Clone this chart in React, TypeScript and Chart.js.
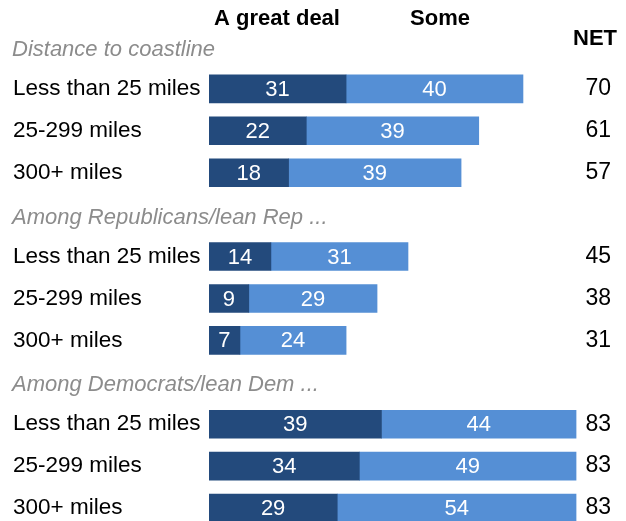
import React, { useEffect, useRef } from "react";
import { Chart, registerables } from "chart.js";

Chart.register(...registerables);

const groupTitles = ["Distance to coastline", "Among Republicans/lean Rep ...", "Among Democrats/lean Dem ..."];
const rowLabels = ["Less than 25 miles", "25-299 miles", "300+ miles"];
const greatDeal = [31, 22, 18, 14, 9, 7, 39, 34, 29];
const some = [40, 39, 39, 31, 29, 24, 44, 49, 54];
const net = [70, 61, 57, 45, 38, 31, 83, 83, 83];
const seriesNames = ["A great deal", "Some"];
const netTitle = "NET";

const DARK = "#234a7c";
const LIGHT = "#558fd5";
const FONT = "'Liberation Sans', Arial, sans-serif";

const slotLabels: string[] = [];
const slotGreat: (number | null)[] = [];
const slotSome: (number | null)[] = [];
const slotNet: (number | null)[] = [];
const slotHeader: (string | null)[] = [];
groupTitles.forEach((g, gi) => {
  slotLabels.push(g);
  slotGreat.push(null);
  slotSome.push(null);
  slotNet.push(null);
  slotHeader.push(g);
  rowLabels.forEach((r, ri) => {
    const i = gi * 3 + ri;
    slotLabels.push(r);
    slotGreat.push(greatDeal[i]);
    slotSome.push(some[i]);
    slotNet.push(net[i]);
    slotHeader.push(null);
  });
});

const textPlugin = {
  id: "textPlugin",
  afterDatasetsDraw(chart: any) {
    const ctx = chart.ctx;
    const y = chart.scales.y;
    const x = chart.scales.x;
    ctx.save();
    ctx.textBaseline = "middle";
    slotLabels.forEach((lab, i) => {
      const py = y.getPixelForValue(i);
      if (slotHeader[i]) {
        ctx.font = `italic 22px ${FONT}`;
        ctx.fillStyle = "#8c8c8c";
        ctx.textAlign = "left";
        ctx.fillText(lab, 12, py + 3);
        return;
      }
      ctx.font = `22.5px ${FONT}`;
      ctx.fillStyle = "#000";
      ctx.textAlign = "left";
      ctx.fillText(lab, 13, py);
      const g = slotGreat[i] as number;
      const s = slotSome[i] as number;
      ctx.font = `22px ${FONT}`;
      ctx.fillStyle = "#fff";
      ctx.textAlign = "center";
      const x0 = x.getPixelForValue(0);
      const x1 = x.getPixelForValue(g);
      const x2 = x.getPixelForValue(g + s);
      ctx.fillText(String(g), (x0 + x1) / 2, py + 1);
      ctx.fillText(String(s), (x1 + x2) / 2, py + 1);
      ctx.font = `23px ${FONT}`;
      ctx.fillStyle = "#000";
      ctx.textAlign = "right";
      ctx.fillText(String(slotNet[i]), 611, py);
    });
    ctx.font = `bold 22px ${FONT}`;
    ctx.fillStyle = "#000";
    ctx.textAlign = "center";
    ctx.fillText(seriesNames[0], 277, 19);
    ctx.fillText(seriesNames[1], 440, 19);
    ctx.textAlign = "right";
    ctx.fillText(netTitle, 617, 39);
    ctx.restore();
  },
};

export default function App() {
  const ref = useRef<HTMLCanvasElement>(null);
  useEffect(() => {
    if (!ref.current) return;
    const chart = new Chart(ref.current, {
      type: "bar",
      data: {
        labels: slotLabels,
        datasets: [
          { label: seriesNames[0], data: slotGreat, backgroundColor: DARK, barThickness: 28 },
          { label: seriesNames[1], data: slotSome, backgroundColor: LIGHT, barThickness: 28 },
        ],
      },
      options: {
        indexAxis: "y",
        animation: false,
        responsive: false,
        maintainAspectRatio: false,
        layout: { padding: { left: 209, right: 19, top: 26, bottom: 1 } },
        plugins: { legend: { display: false }, tooltip: { enabled: false } },
        scales: {
          x: { stacked: true, min: 0, max: 90, display: false },
          y: { stacked: true, display: false },
        },
      },
      plugins: [textPlugin],
    });
    return () => chart.destroy();
  }, []);
  return (
    <div style={{ position: "fixed", left: 0, top: 0, width: 626, height: 530, background: "#fff" }}>
      <canvas ref={ref} width={626} height={530} style={{ width: 626, height: 530 }} />
    </div>
  );
}
